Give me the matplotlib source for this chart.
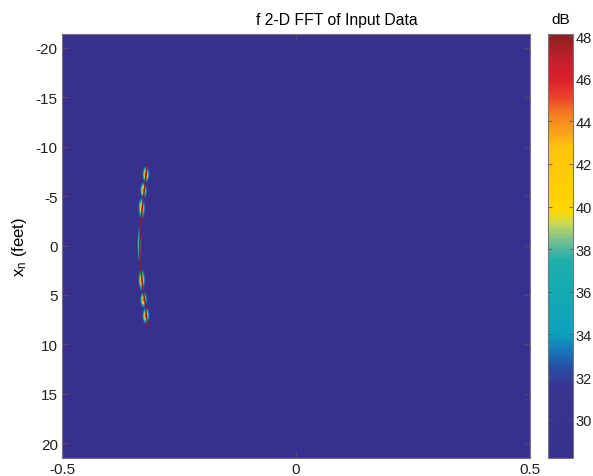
import numpy as np
import matplotlib
matplotlib.use("Agg")
import matplotlib.pyplot as plt
from matplotlib.colors import LinearSegmentedColormap

plt.rcParams["font.family"] = ["Liberation Sans", "DejaVu Sans"]
plt.rcParams["font.size"] = 11
plt.rcParams["axes.unicode_minus"] = False

# ---- data ----
# background level of the 2-D FFT magnitude (dB)
floor_db = 28.4

# bright returns along the arc near x = -0.33
blob_x = [-0.321, -0.326, -0.330, -0.335, -0.330, -0.326, -0.321]
blob_y = [-7.2, -5.6, -3.8, -0.1, 3.5, 5.5, 7.1]
blob_db = [46.5, 45.5, 44.5, 40.5, 44.5, 45.5, 46.5]
blob_sx = [0.004, 0.004, 0.004, 0.0025, 0.004, 0.004, 0.004]
blob_sy = [0.45, 0.45, 0.6, 1.1, 0.6, 0.45, 0.45]

# thin dark-red ridge joining them
arc_y = [-8.1, -6.0, -4.0, -2.0, 0.0, 2.0, 4.0, 6.0, 8.2]
arc_x = [-0.318, -0.323, -0.328, -0.332, -0.334, -0.332, -0.328, -0.322, -0.317]

x_ticks = [-0.5, 0, 0.5]
y_ticks = [-20, -15, -10, -5, 0, 5, 10, 15, 20]
cb_ticks = [30, 32, 34, 36, 38, 40, 42, 44, 46, 48]

#
# ---- colour map (muted jet, as printed) ----
#
vmin, vmax = 28.2, 48.1
nodes = [
    (28.2, "#38308f"), (31.5, "#3a3392"), (32.3, "#2a48a0"), (33.2, "#1577b8"),
    (34.0, "#0ea0bc"), (36.0, "#13aab2"), (37.5, "#20aeaa"), (38.3, "#6cbe98"),
    (39.2, "#c8d85a"), (39.8, "#ffd700"), (42.8, "#ffc20e"), (43.5, "#f7a21b"),
    (44.3, "#f58220"), (45.2, "#e8412a"), (46.0, "#dc1f2d"), (47.0, "#c0202c"),
    (48.1, "#8a2020"),
]
cmap = LinearSegmentedColormap.from_list(
    "printjet", [((v - vmin) / (vmax - vmin), c) for v, c in nodes])

#
# ---- build the field ----
#
xs = np.linspace(-0.5, 0.5, 937)
ys = np.linspace(-21.4, 21.5, 849)
X, Y = np.meshgrid(xs, ys)
field = np.full(X.shape, floor_db)
for bx, by, bdb, sx, sy in zip(blob_x, blob_y, blob_db, blob_sx, blob_sy):
    g = (bdb - floor_db) * np.exp(-0.5 * (((X - bx) / sx) ** 2 + ((Y - by) / sy) ** 2))
    field = np.maximum(field, floor_db + g)

fig = plt.figure(figsize=(5.93, 4.77), dpi=100)
ax = fig.add_axes([62 / 593, 1 - 459 / 477, 468 / 593, 424 / 477])
cax = fig.add_axes([548 / 593, 1 - 459 / 477, 25 / 593, 424 / 477])

im = ax.imshow(field, extent=[-0.5, 0.5, 21.5, -21.4], origin="upper",
               cmap=cmap, vmin=vmin, vmax=vmax, aspect="auto",
               interpolation="bilinear")
ax.plot(arc_x, arc_y, color="#8a1f24", lw=1.1)

ax.set_xlim(-0.5, 0.5)
ax.set_ylim(21.5, -21.4)
ax.set_xticks(x_ticks)
ax.set_xticklabels(["-0.5", "0", "0.5"])
ax.set_yticks(y_ticks)
ax.tick_params(direction="in", length=4, width=0.6, color="#555555",
               top=True, right=True, labelcolor="#222222", pad=3)
for s in ax.spines.values():
    s.set_color("#777777")
    s.set_linewidth(0.8)
ax.set_ylabel("$\\mathregular{x_n}$ (feet)", fontsize=12, labelpad=5)

cb = fig.colorbar(im, cax=cax, ticks=cb_ticks)
cb.ax.tick_params(direction="in", length=3, width=0.6, color="#555555",
                  left=True, right=True, labelcolor="#222222", labelsize=10.5, pad=2)
cb.outline.set_edgecolor("#777777")
cb.outline.set_linewidth(0.8)

fig.text(256 / 593, 1 - 21 / 477, "f 2-D FFT of Input Data", ha="left", va="center",
         fontsize=11.3)
fig.text(561 / 593, 1 - 20 / 477, "dB", ha="center", va="center")

fig.savefig("out.png", dpi=100)
